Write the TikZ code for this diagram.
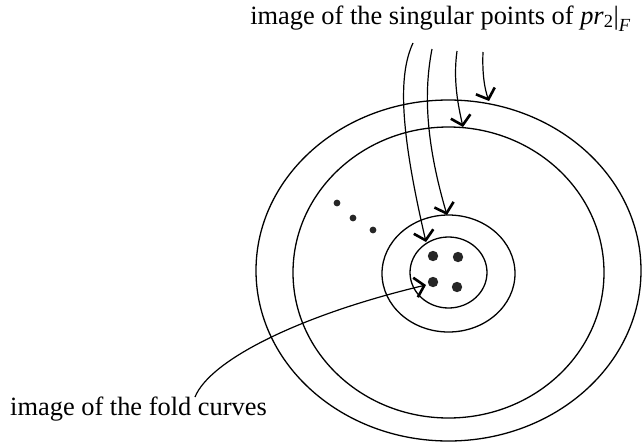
\documentclass[tikz,border=0pt]{standalone}
\usepackage{fontspec}
\setmainfont{Liberation Serif}
\usepackage{tikz}
\usetikzlibrary{arrows.meta}

\begin{document}
\begin{tikzpicture}[x=1pt,y=-1pt,
    ring/.style={line width=1.3pt},
    lead/.style={line width=1.2pt,-{Straight Barb[length=9pt,width=20pt,line width=2.6pt]}},
    txt/.style={font=\fontsize{26.4pt}{30pt}\selectfont, inner sep=0pt}]
\useasboundingbox (0,0) rectangle (642,442);

% Labels
\node[txt, anchor=base east] (sing) at (631,24) {image of the singular points of \textit{pr}\textsubscript{2}|\raisebox{-0.15em}{\textsubscript{\textit{F}}}};
\node[txt, anchor=base west] (fold) at (10,415) {image of the fold curves};

% Nested rings
\draw[ring] (448.5,270.5) ellipse [x radius=192.5pt, y radius=170.5pt];
\draw[ring] (448.5,272.5) ellipse [x radius=155.5pt, y radius=145.5pt];
\draw[ring] (448.5,273.5) ellipse [x radius=66.5pt, y radius=58.5pt];
\draw[ring] (448.5,272.5) ellipse [x radius=38.5pt, y radius=35.5pt];

% Singular points
\foreach \px/\py in {433/256, 458/257, 433/282, 457/287}
    \fill[black!85] (\px,\py) circle [radius=5.2pt];
\foreach \px/\py in {337/203, 353/218, 373/230}
    \fill[black!85] (\px,\py) circle [radius=3.4pt];

% Leaders from the top label
\coordinate (s1) at (413,43);
\coordinate (s2) at (432,49);
\coordinate (s3) at (457,51);
\coordinate (s4) at (483,52);
\coordinate (t1) at (426,242);
\coordinate (t2) at (447,215);
\coordinate (t3) at (463,127);
\coordinate (t4) at (489,101);
\draw[lead] (s1) .. controls (398,75) and (400,130) .. (t1);
\draw[lead] (s2) .. controls (424,90) and (425,140) .. (t2);
\draw[lead] (s3) .. controls (453,80) and (458,105) .. (t3);
\draw[lead] (s4) .. controls (482,75) and (485,90) .. (t4);

% Leader from the bottom label
\coordinate (f0) at (195,397);
\coordinate (f1) at (426,285);
\draw[lead] (f0) .. controls (210,360) and (300,315) .. (f1);
\end{tikzpicture}
\end{document}
